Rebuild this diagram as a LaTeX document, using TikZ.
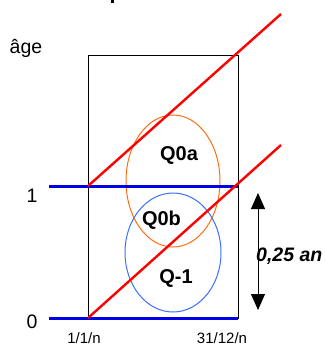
\documentclass[tikz,border=0pt]{standalone}
\usepackage{fontspec}
\setmainfont{Liberation Sans}
\usetikzlibrary{arrows.meta}
\definecolor{redl}{RGB}{255,0,0}
\definecolor{bluel}{RGB}{0,0,230}
\definecolor{orangee}{RGB}{255,110,20}
\definecolor{bluee}{RGB}{60,110,255}
\tikzset{
  lifeline/.style={draw=redl,line width=2.4pt},
  ageline/.style={draw=bluel,line width=3pt},
  qlabel/.style={font=\fontsize{20}{22}\selectfont\bfseries,inner sep=0pt},
  axlabel/.style={font=\fontsize{19.5}{22}\selectfont,inner sep=0pt},
  datelabel/.style={font=\fontsize{15}{18}\selectfont,inner sep=0pt,anchor=base},
}
\begin{document}
\begin{tikzpicture}[x=1pt,y=-1pt]
\useasboundingbox (0,0) rectangle (326,346);
% tiny fragment of cut-off title
\fill (111,0) rectangle (114,3);
% frame
\draw[line width=0.9pt] (88,55) rectangle (238,318);
% ellipses
\draw[orangee,line width=1pt] (173,181) ellipse [x radius=47,y radius=66];
\draw[bluee,line width=1pt] (173,252.5) ellipse [x radius=48,y radius=59.5];
% age lines
\coordinate (a1l) at (49,186);
\coordinate (a1r) at (238,186);
\coordinate (a0l) at (49,318);
\coordinate (a0r) at (238,318);
\draw[ageline] (a1l) -- (a1r);
\draw[ageline] (a0l) -- (a0r);
% life lines
\coordinate (l1s) at (88,186);
\coordinate (l1e) at (281,14);
\coordinate (l2s) at (88,318);
\coordinate (l2e) at (281,145);
\draw[lifeline] (l1s) -- (l1e);
\draw[lifeline] (l2s) -- (l2e);
% labels
\node[qlabel] (q0a) at (179,155) {Q0a};
\node[qlabel] (q0b) at (161.5,220) {Q0b};
\node[qlabel] (qm1) at (176,278) {Q-1};
\node[axlabel] (age) at (26,48) {âge};
\node[axlabel] (one) at (32,196) {1};
\node[axlabel] (zero) at (32,322) {0};
\node[datelabel] (d1) at (84,343) {1/1/n};
\node[datelabel] (d2) at (222,343) {31/12/n};
% arrow
\coordinate (at) at (258,193);
\coordinate (ab) at (258,310);
\draw[line width=1pt,{Triangle[length=16pt,width=14pt]}-{Triangle[length=16pt,width=14pt]}] (at) -- (ab);
\node[font=\fontsize{19.5}{22}\selectfont\bfseries\itshape,inner sep=0pt,anchor=west] (dur) at (256,256) {0,25 an};
\end{tikzpicture}
\end{document}
